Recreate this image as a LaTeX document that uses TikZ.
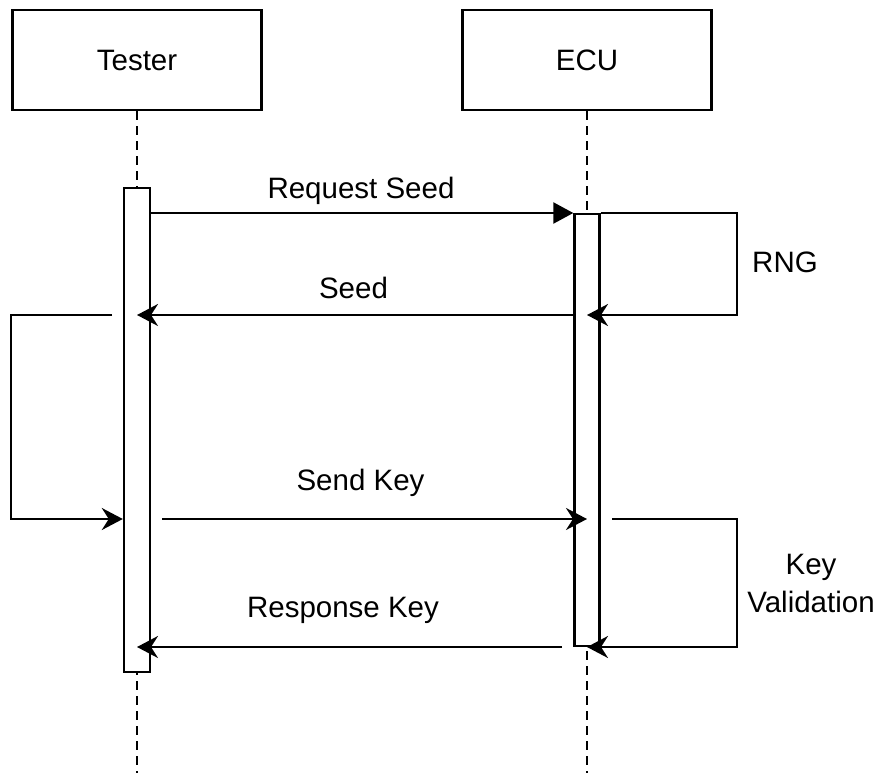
\documentclass[tikz,border=0pt]{standalone}
\usepackage{fontspec}
\setmainfont{Liberation Sans}
\usetikzlibrary{arrows.meta,positioning}

\tikzset{
  actor/.style={draw, line width=2.4pt, minimum width=249pt, minimum height=100pt},
  actbar/.style={draw, fill=white, line width=2.4pt, minimum width=25pt, inner sep=0pt},
  lifeline/.style={line width=2.4pt, dash pattern=on 9pt off 6pt},
  msg/.style={line width=2.4pt, -{Stealth[length=21pt,width=22pt,inset=7pt]}},
  reqmsg/.style={line width=2.4pt, -{Triangle[length=20pt,width=21pt]}},
  lbl/.style={anchor=base, inner sep=0pt}
}

\begin{document}
\begin{tikzpicture}[x=1pt,y=-1pt,font=\fontsize{29.5}{38}\selectfont]
        \useasboundingbox (0,0) rectangle (878,773);

        % Lifeline heads
        \node[actor] (tester) at (137,60) {Tester};
        \node[actor] (ecu) at (587,60) {ECU};

        % Dashed lifelines
        \coordinate (tend) at (137,773);
        \coordinate (eend) at (587,773);
        \draw[lifeline] (tester.south) -- (tend);
        \draw[lifeline] (ecu.south) -- (eend);

        % Activation bars
        \node[actbar, minimum height=484pt, minimum width=26pt] (tbar) at (137,430) {};
        \node[actbar, minimum height=432pt] (ebar) at (587,430) {};

        % Message levels
        \coordinate (m1) at (0,213);
        \coordinate (m2) at (0,315);
        \coordinate (m3) at (0,519);
        \coordinate (m4) at (0,647);

        % Request Seed
        \draw[reqmsg] (tbar.east |- m1) -- (ebar.west |- m1);
        \node[lbl] (lreq) at (361,198) {Request Seed};

        % RNG self call
        \coordinate (rngA) at (737,213);
        \coordinate (rngB) at (737,315);
        \draw[msg] (ebar.east |- m1) -- (rngA) -- (rngB) -- (ebar.center |- m2);
        \node[lbl] (lrng) at (785,272) {RNG};

        % Seed
        \draw[msg] (ebar.west |- m2) -- (tbar.center |- m2);
        \node[lbl] (lseed) at (353.5,298) {Seed};

        % Tester computes key
        \coordinate (calcA) at (112,315);
        \coordinate (calcB) at (11,315);
        \coordinate (calcC) at (11,519);
        \draw[msg] (calcA) -- (calcB) -- (calcC) -- (tbar.west |- m3);

        % Send Key
        \coordinate (skA) at (162,519);
        \draw[msg] (skA) -- (ebar.center |- m3);
        \node[lbl] (lsend) at (360.5,490) {Send Key};

        % Key Validation self call
        \coordinate (kvA) at (612,519);
        \coordinate (kvB) at (737,519);
        \coordinate (kvC) at (737,647);
        \draw[msg] (kvA) -- (kvB) -- (kvC) -- (ebar.center |- m4);
        \node[align=center, inner sep=0pt] (lkv) at (811,583) {Key\\Validation};

        % Response Key
        \coordinate (rkA) at (562,647);
        \draw[msg] (rkA) -- (tbar.center |- m4);
        \node[lbl] (lresp) at (343,617) {Response Key};
\end{tikzpicture}
\end{document}
